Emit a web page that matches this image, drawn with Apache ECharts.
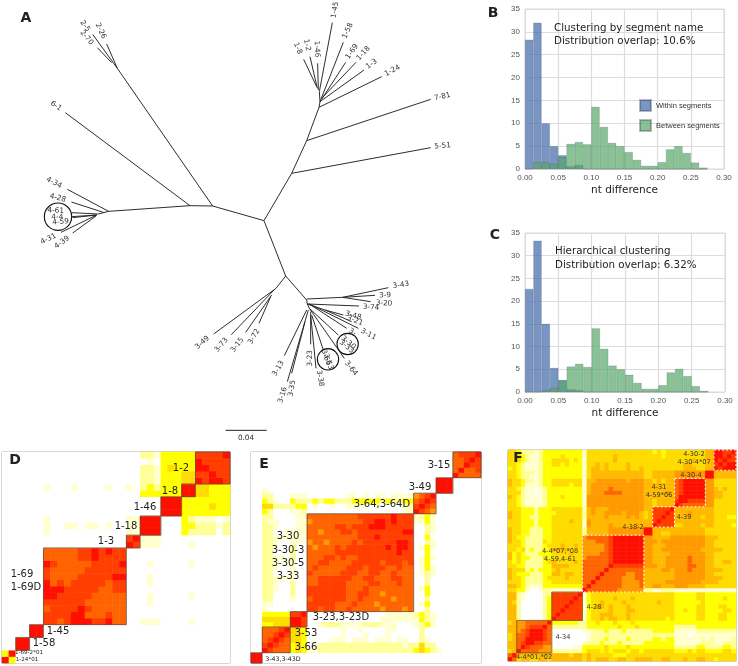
<!DOCTYPE html>
<html><head><meta charset="utf-8">
<style>html,body{margin:0;padding:0;background:#fff}#c{width:738px;height:666px}</style>
<script src="https://cdn.jsdelivr.net/npm/echarts@6/dist/echarts.min.js"></script>
</head><body><div id="c"></div>
<script>
// ---------- Panel A: tree edges in tree units [x1,y1,x2,y2]
var treeEdges=[
[792,662,638,618],[638,618,570,617],[570,617,326,634],[326,634,295,642],
[202,568,326,634],[214,606,310,637],[215,638,295,642],[218,653,290,645],[215,650,290,645],[183,697,290,645],[218,699,288,648],
[196,338,570,617],[352,205,638,618],[320,132,352,205],[278,103,352,205],[292,143,335,188],
[792,662,857,828],[857,828,920,900],[857,828,828,865],[641,1002,828,865],[694,1004,822,870],[737,997,815,885],[777,970,812,890],
[792,662,875,520],[875,520,920,422],[920,422,957,322],[957,322,960,305],[960,305,958,275],
[1292,443,875,520],[1292,298,920,422],[1145,230,957,322],[1092,210,960,305],[1068,187,965,295],[1037,187,965,298],[1030,127,960,305],
[997,68,958,275],[953,190,955,270],[930,170,952,265],[911,178,950,260],
[920,897,1028,892],[1028,892,1165,863],[1028,892,1125,886],[1028,892,1112,905],[920,900,922,912],[1077,918,922,912],[922,912,928,925],
[922,912,975,930],[975,930,1030,945],[975,930,1055,965],[928,912,1040,985],[928,912,1075,985],
[1015,1005,928,925],[970,1050,935,945],[1033,1075,928,925],[948,1105,932,945],[932,1033,932,935],[853,1067,920,930],[862,1145,925,930],[875,1120,915,965]];
var treeRings=[[174,650,41],[1043,1032,32],[984,1078,32]];
var scaleBar=[[677,1291,800,1291]];
var tipNames=['1-45','1-58','1-69','1-18','1-3','1-24','1-46','1-2','1-8','7-81','5-51','2-26','2-5','2-70','6-1','4-34','4-28','4-61','4-4','4-59','4-31','4-39','3-49','3-73','3-15','3-72','3-13','3-16','3-35','3-23','3-38','3-64','3-11','3-21','3-48','3-74','3-20','3-9','3-43','3-30','3-33','3-53','3-66','3-','0.04'];
var tipPlaces=[[1005,30,80],[1043,92,65],[1056,155,55],[1090,160,48],[1115,192,35],[1177,212,28],[951,147,-88],[921,135,-78],[893,145,-68],[1327,290,12],[1328,438,5],[302,93,-65],[255,78,-55],[260,113,-50],[168,318,-35],[162,548,-28],[173,594,-15],[167,632,-3],[172,652,0],[182,666,5],[145,717,25],[186,727,35],[607,1028,42],[664,1035,50],[712,1035,52],[762,1010,60],[835,1105,60],[848,1185,72],[876,1165,80],[929,1075,90],[960,1135,-80],[1053,1105,-52],[1105,1003,-28],[1065,962,-22],[1060,947,-15],[1113,922,-3],[1152,910,-3],[1155,886,3],[1203,855,8],[1045,1028,-40],[1040,1040,-40],[985,1085,-70],[978,1072,-70],[1057,996,-30],[738,1315,0]];
// ---------- Panels B, C: histograms
var binCentres=[0.00625,0.01875,0.03125,0.04375,0.05625,0.06875,0.08125,0.09375,0.10625,0.11875,0.13125,0.14375,0.15625,0.16875,0.18125,0.19375,0.20625,0.21875,0.23125,0.24375,0.25625,0.26875];
var withinB=[28.3,32,10,5,3,0.6,0.9,0,0,0,0,0,0,0,0,0,0,0,0,0,0,0];
var betweenB=[0,1.5,1.5,1.1,2.6,5.5,5.9,5.4,13.6,9.2,5.7,5,3.7,2,0.7,0.7,1.5,4.3,5,3.5,1.4,0.3];
var withinC=[22.7,33.3,15,5.3,2.6,0.6,0.4,0,0,0,0,0,0,0,0,0,0,0,0,0,0,0];
var betweenC=[0,0,0.4,0.9,2.6,5.6,6.2,5.5,14,9.5,5.8,5,3.8,2,0.7,0.7,1.5,4.3,5.1,3.5,1.3,0.2];
// ---------- Panels D, E, F: similarity levels (row i, from the diagonal rightwards; missing = 0)
var rowsD=["93","9","99","9","99","9",
"887899988977 00 111 0000 1","88899777877","8889877777","888777777 000 1","88877777 000 1 00000 1","8887788","888788 000 1","88899 000 1","8888","889 000 1 00000 1","88","8",
"98 111 0000 1","9 111","999 000 32 222 0 2","99 000 33 222 1 2","9 000 32 111 0 1","999 33 33333","99 33 33433","9 33 33333","99 44333","9 44333","98998","8988","888","88","9"];
var rowsE=["99","9",
"98777 343 112 2222222222222222 3432 1","9877 343 012 2222222222222212 2422","987 443 000 0111011101110110 0210","98 443 000 0001000100010000 0200","9 443 000 0001001000011000 0200",
"998 0012221111222111000 1231","98 0000000000000111111 1321","9 0000000000000011111 2321",
"8878877877777677767 0020","888877787776777777 0130","88888778777776777 0020","8888778877677777 0030","888777877777777 0130","88777788777877 0020","8877887778877 0020","887788778777 0121","88788877877 0131","8888788878 0130","888888888 0131","88888988 0030","8898998 0131","888998 0021","88888 0030","8899 0021","888 0021","88 1131","8 1231",
"9876","987","98","9","999","99","9","97777","9778","988","98","9"];
var rowsF=[
"97 45544554 5555555 45455544554455 55 44554 4454455 44 34444",
"9 55555555 5555455 45444443334444 44 44444 4444444 44 44444",
"97777666 2222222 34443434443443 44 44444 3334344 33 33443",
"9877766 0000011 33333433334333 33 33333 2222233 22 22332",
"998877 0000000 12223222322222 33 33333 1111112 22 11222",
"99987 0000000 01222322223222 22 33233 1111112 12 11112",
"9987 0000000 01222222222222 22 22222 1110111 11 11111",
"987 0000000 11222322232222 22 33333 1111122 22 22222",
"97 2222222 23333333433343 33 33333 2222233 33 33333",
"9 3333332 23343334333433 33 33333 3333333 33 33333",
"9888888 13445455445444 44 44434 3333344 33 34433",
"988888 13445554445444 44 44444 3333344 33 34433",
"98888 13444454445544 44 44444 3343344 33 33443",
"9888 13455454445444 44 44444 3333344 33 34433",
"988 13445444454444 44 45444 3333334 33 33333",
"98 13444445444544 44 44444 3333344 33 33433",
"9 13444444444444 44 44444 3333344 33 33333",
"97777777666666 22 11222 1111111 11 11111",
"9777777766667 55 66555 6665555 44 44444",
"977777766667 55 55566 6666665 55 54444",
"97777766677 55 55555 6666666 55 55444",
"9777776677 55 55555 6666666 55 44444",
"977777777 55 55665 6667666 55 55444",
"98888888 66 65566 6667766 55 44444",
"9999999 66 55566 6667666 55 44554",
"999999 66 55566 6667666 55 44444",
"99999 66 55556 6666666 55 44444",
"9999 66 55666 6666665 55 55444",
"999 66 55566 6666666 55 44444",
"99 66 65666 6666666 55 44444",
"9 66 55556 6666666 55 54444",
"99 55445 5555555 44 44444","9 55555 5555555 44 44444",
"98888 4455554 55 44443","9888 5555555 55 44444","988 5555554 55 44433","98 5556555 55 44444","9 5555555 55 44444",
"9877777 66 44444","998888 66 44444","99999 66 55444","9999 66 55444","999 66 54544","99 66 44444","9 66 44444",
"99 55555","9 55555","98999","9899","988","98","9"];
var edgesD=[0,2,4,6,18,20,23,26,28,33];
var edgesE=[0,2,7,10,29,33,36,41];
var edgesFsolid=[2,10,17];
var edgesFdashed=[[17,31],[33,38],[38,45],[47,52]];
var heatColours=['#ffffff','#ffffd0','#ffff99','#ffff00','#ffdc00','#ffba00','#ff9a00','#ff6400','#ff3e00','#ff0f00'];

// ---------- helpers
var FONT='"DejaVu Sans"';
function cells(rows){
  var out=[],n=rows.length;
  for(var i=0;i<n;i++){
    var s=rows[i].replace(/ /g,'');
    for(var j=i;j<n;j++){
      var v=+(s[j-i]||0);
      out.push([j,i,v]);
      if(j!==i) out.push([i,j,v]);
    }
  }
  return out;
}
function seq(n){var a=[];for(var i=0;i<n;i++)a.push(String(i));return a;}
var grids=[],xAxes=[],yAxes=[],series=[],graphics=[];
function text(t,x,y,size,opt){
  opt=opt||{};
  graphics.push({type:'text',x:x,y:y,silent:true,z:50,style:{text:t,fontSize:size,fontFamily:opt.family||FONT,fontWeight:opt.weight||'normal',fill:opt.fill||'#222',align:opt.align||'center',verticalAlign:'middle'}});
}
// hist
function hist(box,within,between){
  var g=grids.length;
  grids.push(Object.assign({show:true,borderColor:'#dddddd',borderWidth:1,backgroundColor:'#fff'},box));
  xAxes.push({type:'value',gridIndex:g,min:0,max:0.3,interval:0.05,axisTick:{show:false},axisLine:{show:false},
    axisLabel:{fontSize:8,color:'#555',fontFamily:'"Liberation Sans"',margin:5,formatter:function(v){return v.toFixed(2);}},
    splitLine:{show:true,lineStyle:{color:'#dcdcdc',width:1.2}},
    name:'nt difference',nameLocation:'middle',nameGap:16,nameTextStyle:{fontSize:10.5,color:'#222',fontFamily:FONT}});
  yAxes.push({type:'value',gridIndex:g,min:0,max:35,interval:5,axisTick:{show:false},axisLine:{show:false},
    axisLabel:{fontSize:8,color:'#555',fontFamily:'"Liberation Sans"',margin:5},
    splitLine:{show:true,lineStyle:{color:'#dcdcdc',width:1.2}}});
  [['Within segments',within,'rgba(76,114,176,0.75)'],['Between segments',between,'rgba(85,168,104,0.7)']].forEach(function(d){
    series.push({type:'bar',name:d[0],xAxisIndex:g,yAxisIndex:g,barWidth:8.3,barGap:'-100%',
      data:binCentres.map(function(c,i){return [c,d[1][i]];}),
      itemStyle:{color:d[2],borderColor:'rgba(50,60,70,0.35)',borderWidth:0.5},silent:true});
  });
}
hist({left:525,top:9,width:199,height:160},withinB,betweenB);
hist({left:525,top:233,width:200,height:159},withinC,betweenC);
// tree
var gt=grids.length;
grids.push({left:0,top:0,width:450,height:440});
xAxes.push({type:'value',gridIndex:gt,min:0,max:1350,show:false});
yAxes.push({type:'value',gridIndex:gt,min:0,max:1320,inverse:true,show:false});
function segSeries(data,w){
  return {type:'custom',xAxisIndex:gt,yAxisIndex:gt,silent:true,clip:false,data:data,
    renderItem:function(p,api){
      var a=api.coord([api.value(0),api.value(1)]),b=api.coord([api.value(2),api.value(3)]);
      return {type:'line',shape:{x1:a[0],y1:a[1],x2:b[0],y2:b[1]},style:{stroke:'#222',lineWidth:w}};
    }};
}
series.push(segSeries(treeEdges,0.95));
series.push(segSeries(scaleBar,1));
series.push({type:'custom',xAxisIndex:gt,yAxisIndex:gt,silent:true,clip:false,data:treeRings,
  renderItem:function(p,api){
    var c=api.coord([api.value(0),api.value(1)]);
    return {type:'circle',shape:{cx:c[0],cy:c[1],r:api.value(2)/3},style:{fill:'none',stroke:'#111',lineWidth:1.1}};
  }});
series.push({type:'custom',xAxisIndex:gt,yAxisIndex:gt,silent:true,clip:false,data:tipPlaces,
  renderItem:function(p,api){
    var c=api.coord([api.value(0),api.value(1)]);
    return {type:'text',x:c[0],y:c[1],rotation:api.value(2)*Math.PI/180,
      style:{text:tipNames[p.dataIndex],fontSize:7.3,fontFamily:FONT,fill:'#333',align:'center',verticalAlign:'middle'}};
  }});
// heatmaps
var heatIdx=[];
function heat(box,rows,boxes){
  var n=rows.length,g=grids.length;
  grids.push(Object.assign({show:true,borderColor:'#999',borderWidth:1,backgroundColor:'#fff'},box));
  xAxes.push({type:'category',gridIndex:g,data:seq(n),show:false});
  yAxes.push({type:'category',gridIndex:g,data:seq(n),show:false});
  heatIdx.push(series.length);
  series.push({type:'heatmap',xAxisIndex:xAxes.length-1,yAxisIndex:yAxes.length-1,data:cells(rows),silent:true,progressive:0});
  xAxes.push({type:'value',gridIndex:g,min:0,max:n,show:false});
  yAxes.push({type:'value',gridIndex:g,min:0,max:n,show:false});
  var xi=xAxes.length-1,yi=yAxes.length-1;
  boxes.forEach(function(b){
    series.push({type:'custom',xAxisIndex:xi,yAxisIndex:yi,silent:true,clip:false,data:b.spans,z:5,
      renderItem:function(p,api){
        var a=api.coord([api.value(0),api.value(0)]),c=api.coord([api.value(1),api.value(1)]);
        return {type:'rect',shape:{x:a[0],y:c[1],width:c[0]-a[0],height:a[1]-c[1]},style:{fill:'none',stroke:b.color,lineWidth:b.w,lineDash:b.dash||null}};
      }});
  });
}
function spans(e){var o=[];for(var i=0;i<e.length-1;i++)o.push([e[i],e[i+1]]);return o;}
heat({left:2,top:452,width:228,height:211},rowsD,[{spans:spans(edgesD).slice(1),color:'#6b4a3a',w:0.8}]);
heat({left:251,top:452,width:230,height:211},rowsE,[{spans:spans(edgesE),color:'#6b4a3a',w:0.8}]);
heat({left:508,top:450,width:228,height:211},rowsF,[{spans:spans(edgesFsolid),color:'#6b5a20',w:0.8},{spans:edgesFdashed,color:'#ffffff',w:1,dash:[2,2]}]);

// panel letters
var L={weight:'bold',family:'"DejaVu Sans"'};
text('A',26,18,14,L);text('B',493,13,14,L);text('C',495,235,14,L);
text('D',15,460,14,L);text('E',264,464,14,L);text('F',518,458,14,L);
// hist annotations
text('Clustering by segment name',554,28,10.3,{align:'left'});
text('Distribution overlap: 10.6%',554,41,10.3,{align:'left'});
text('Hierarchical clustering',555,251,10.3,{align:'left'});
text('Distribution overlap: 6.32%',555,265,10.3,{align:'left'});
// D labels
[['1-2',181,468],['1-8',170,491],['1-46',145,507],['1-18',126,526],['1-3',106,541],['1-69',22,574],['1-69D',26,587],['1-45',58,631],['1-58',44,643]].forEach(function(a){text(a[0],a[1],a[2],10);});
text('1-69-2*01',29,653,5.6);text('1-24*01',27,660,5.6);
// E labels
[['3-15',439,465],['3-49',420,487],['3-64,3-64D',382,504],['3-30',288,536],['3-30-3',288,550],['3-30-5',288,563],['3-33',288,576],['3-23,3-23D',341,617],['3-53',306,633],['3-66',306,647]].forEach(function(a){text(a[0],a[1],a[2],10);});
text('3-43,3-43D',283,659,6.3);
// F labels
[['4-30-2',694,454],['4-30-4*07',694,462],['4-30-4',691,475],['4-31',659,487],['4-59*06',659,495],['4-39',684,517],['4-38-2',633,527],['4-4*07,*08',560,551],['4-59,4-61',560,559],['4-28',594,607],['4-34',563,637],['4-4*01,*02',534,657]].forEach(function(a){text(a[0],a[1],a[2],6.6,{fill:'#333'});});

var chart=echarts.init(document.getElementById('c'),null,{renderer:'canvas'});
chart.setOption({
  animation:false,backgroundColor:'#fff',tooltip:{show:false},
  grid:grids,xAxis:xAxes,yAxis:yAxes,series:series,graphic:{elements:graphics},
  legend:{show:true,left:639,top:99,padding:0,orient:'vertical',selectedMode:false,itemWidth:11,itemHeight:11,itemGap:7,
    icon:'rect',textStyle:{fontSize:7.5,color:'#333',fontFamily:'"Liberation Sans"'},
    data:['Within segments','Between segments']},
  visualMap:{type:'continuous',show:false,min:0,max:9,seriesIndex:heatIdx,inRange:{color:heatColours}}
});
</script></body></html>
